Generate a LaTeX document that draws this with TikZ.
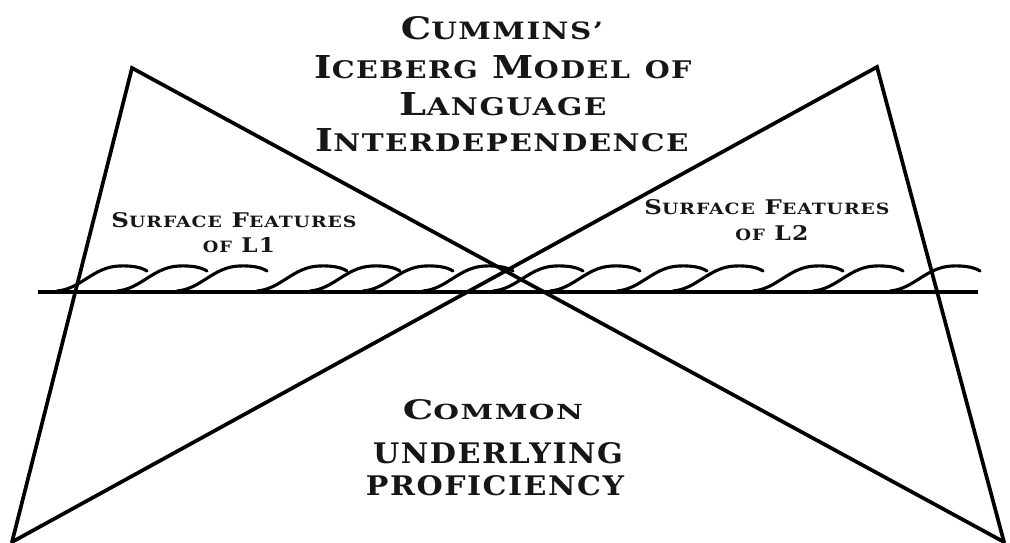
\documentclass[tikz,border=0pt]{standalone}
\usepackage{fontspec}
\usepackage{graphicx}
\newfontfamily\capsfont[LetterSpace=5]{DejaVu Serif}
% hand-made small capitals: full-size initials, reduced capitals for the rest
\newcommand\bigc[1]{{\fontsize{10}{12}\selectfont #1}}
\newcommand\smallc[1]{{\fontsize{7.7}{9}\selectfont #1}}
% a line of lettering stretched to a given width and cap height
\newcommand\fitline[3]{\resizebox{#1}{#2}{\capsfont\bfseries #3}}
\definecolor{ink}{HTML}{161616}
\begin{document}
\begin{tikzpicture}[x=1pt,y=-1pt,
  edge/.style={line width=3.7pt,black,line cap=round},
  sea/.style={line width=3.3pt,black},
  waveline/.style={line width=3.1pt,black,line cap=round},
  lettering/.style={inner sep=0pt,anchor=base,text=ink},
  breaker/.pic={\draw[waveline] (-70,25) .. controls (-46,23) and (-34,1) .. (-8,0)
                  .. controls (4,-0.5) and (14,1) .. (20,5);}]
\useasboundingbox (0,0) rectangle (1010,542);
% corners of the two triangles and the ends of the waterline
\coordinate (apexL) at (132,68);
\coordinate (apexR) at (877,67);
\coordinate (footL) at (12,542);
\coordinate (footR) at (1004,542);
\coordinate (seaW) at (38,292);
\coordinate (seaE) at (978,292);
% breaking waves along the waterline
\foreach \cx in {127,187,247,327,380,433,493,563,620,687,743,823,883,960}
  \pic at (\cx,266) {breaker};
\draw[sea] (seaW) -- (seaE);
% the two crossed triangles
\draw[edge] (footL) -- (apexL) -- (footR);
\draw[edge] (footR) -- (apexR) -- (footL);
% title
\node[lettering] (title1) at (502,39) {\fitline{202pt}{23pt}{\bigc{C}\smallc{UMMINS’}}};
\node[lettering] (title2) at (503,78) {\fitline{377pt}{23pt}{\bigc{I}\smallc{CEBERG} \bigc{M}\smallc{ODEL} \smallc{OF}}};
\node[lettering] (title3) at (503,115) {\fitline{207pt}{23pt}{\bigc{L}\smallc{ANGUAGE}}};
\node[lettering] (title4) at (502,151) {\fitline{373pt}{23pt}{\bigc{I}\smallc{NTERDEPENDENCE}}};
% surface features
\node[lettering] (surfL1) at (234,227) {\fitline{245pt}{15pt}{\bigc{S}\smallc{URFACE} \bigc{F}\smallc{EATURES}}};
\node[lettering] (surfL2) at (239,252) {\fitline{72pt}{15pt}{\smallc{OF} \bigc{L1}}};
\node[lettering] (surfR1) at (767,214) {\fitline{245pt}{15pt}{\bigc{S}\smallc{URFACE} \bigc{F}\smallc{EATURES}}};
\node[lettering] (surfR2) at (772,240) {\fitline{73pt}{15pt}{\smallc{OF} \bigc{L2}}};
% common underlying proficiency
\node[lettering] (cup1) at (493,419) {\fitline{180pt}{20pt}{\bigc{C}\smallc{OMMON}}};
\node[lettering] (cup2) at (498,463) {\fitline{250pt}{21pt}{\smallc{UNDERLYING}}};
\node[lettering] (cup3) at (495,495) {\fitline{258pt}{20pt}{\smallc{PROFICIENCY}}};
\end{tikzpicture}
\end{document}
